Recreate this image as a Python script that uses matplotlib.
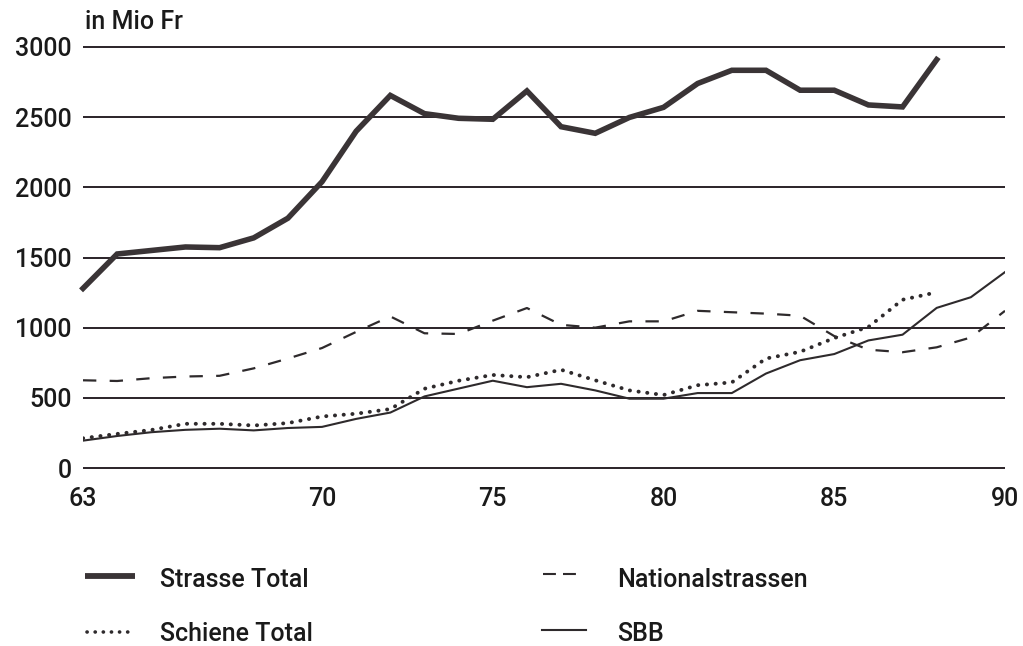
import matplotlib
matplotlib.use("Agg")
import matplotlib.pyplot as plt
from matplotlib.lines import Line2D

years = list(range(1963, 1991))
strasse_years = list(range(1963, 1989))
strasse_total = [1280, 1525, 1550, 1575, 1570, 1640, 1780, 2040, 2400, 2655,
                 2525, 2492, 2485, 2687, 2432, 2385, 2498, 2570, 2740, 2834,
                 2834, 2692, 2692, 2587, 2573, 2910]
national_years = list(range(1963, 1991))
nationalstrassen = [625, 620, 640, 652, 657, 710, 780, 855, 970, 1080,
                    960, 955, 1050, 1140, 1020, 1000, 1045, 1045, 1120, 1110,
                    1100, 1085, 940, 843, 825, 860, 930, 1120]
schiene_years = list(range(1963, 1989))
schiene_total = [212, 243, 271, 315, 315, 303, 320, 367, 387, 420,
                 565, 622, 663, 647, 700, 625, 553, 520, 590, 610,
                 780, 828, 926, 1005, 1199, 1252]
sbb_years = list(range(1963, 1991))
sbb = [195, 228, 255, 272, 280, 268, 285, 293, 350, 395,
       510, 566, 622, 576, 600, 553, 494, 494, 534, 534,
       673, 768, 812, 909, 950, 1141, 1217, 1396]

yticks = [0, 500, 1000, 1500, 2000, 2500, 3000]
xtick_years = [1963, 1970, 1975, 1980, 1985, 1990]
xtick_labels = ["63", "70", "75", "80", "85", "90"]

W, H = 1023, 646
fig = plt.figure(figsize=(W / 100, H / 100), dpi=100)
ax = fig.add_axes([83 / W, 1 - 468 / H, (1005 - 83) / W, (468 - 47) / H])
ax.set_xlim(1963, 1990)
ax.set_ylim(0, 3000)
for s in ax.spines.values():
    s.set_visible(False)

gridc = "#2a2228"
linec = "#2e2a2c"
ax.hlines(yticks, 1963, 1990, colors=gridc, linewidth=1.4, clip_on=False, zorder=1)

ax.plot(strasse_years, strasse_total, color="#3a3436", linewidth=4.0,
        solid_joinstyle="miter", zorder=3, clip_on=False)
ax.plot(national_years, nationalstrassen, color=linec, linewidth=1.6,
        dashes=(6, 6), zorder=3)
ax.plot(schiene_years, schiene_total, color=linec, linewidth=2.8,
        dashes=(0.05, 2.2), dash_capstyle="round", zorder=3)
ax.plot(sbb_years, sbb, color=linec, linewidth=1.5, zorder=3)

fam = ["Roboto", "Liberation Sans", "DejaVu Sans"]
tick_font = dict(family=fam, size=18, weight="medium")
ax.set_yticks(yticks)
ax.set_yticklabels([str(v) for v in yticks], **tick_font, color="#1a1a1a")
ax.set_xticks(xtick_years)
ax.set_xticklabels(xtick_labels, **tick_font, color="#1a1a1a")
ax.tick_params(axis="y", length=0, pad=8)
ax.tick_params(axis="x", length=0, pad=14)

fig.text(85 / W, 1 - 22 / H, "in Mio Fr", ha="left", va="center",
         family=fam, size=18, weight="medium", color="#1a1a1a")

# legend
leg_font = dict(family=fam, size=18, weight="medium",
                color="#1a1a1a", va="center", ha="left")
def fy(py):
    return 1 - py / H
fig.add_artist(Line2D([85 / W, 135 / W], [fy(576), fy(576)], color="#3a3436",
                      linewidth=4.2, solid_capstyle="butt"))
fig.text(160 / W, fy(580), "Strasse Total", **leg_font)
fig.add_artist(Line2D([87 / W, 131 / W], [fy(632), fy(632)], color=linec,
                      linewidth=2.6, dashes=(0.05, 2.2), dash_capstyle="round"))
fig.text(160 / W, fy(634), "Schiene Total", **leg_font)
fig.add_artist(Line2D([543 / W, 576 / W], [fy(574), fy(574)], color=linec,
                      linewidth=1.5, dashes=(6.2, 3.4)))
fig.text(617 / W, fy(580), "Nationalstrassen", **leg_font)
fig.add_artist(Line2D([542 / W, 586 / W], [fy(630), fy(630)], color=linec,
                      linewidth=1.5))
fig.text(617 / W, fy(634), "SBB", **leg_font)

fig.savefig("out.png", dpi=100, facecolor="white")
